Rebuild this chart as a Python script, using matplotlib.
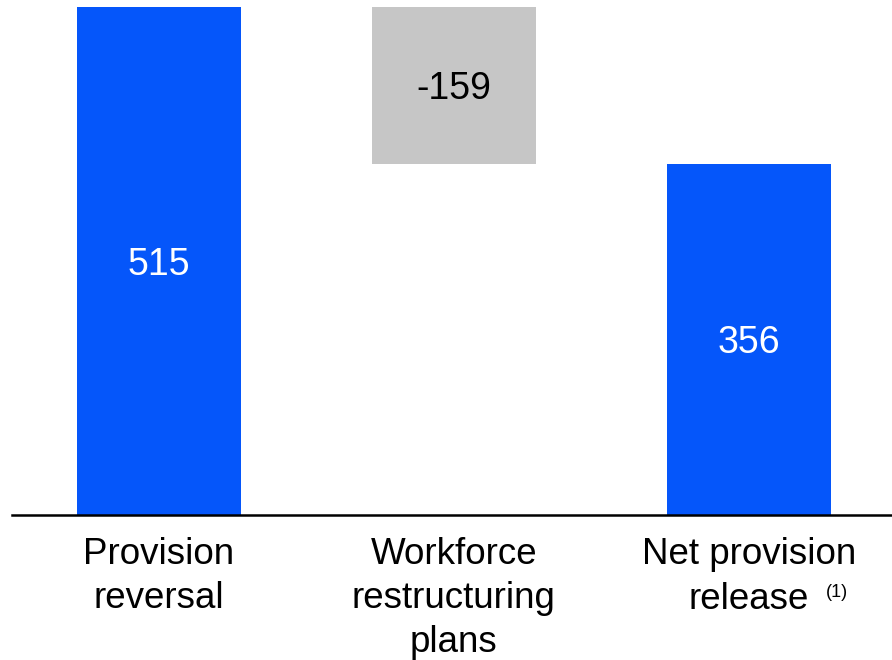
import numpy as np
import matplotlib.pyplot as plt
from matplotlib import transforms

plt.rcParams['font.family'] = ['Liberation Sans', 'DejaVu Sans']

categories = ["Provision\nreversal", "Workforce\nrestructuring\nplans", "Net provision\nrelease"]
values = [515, -159, 356]
labels = ["515", "-159", "356"]

blue = "#0556FA"
grey = "#C6C6C6"

# waterfall bottoms
bottoms = [0, values[0] + values[1], 0]
heights = [values[0], -values[1], values[2]]
colors = [blue, grey, blue]
txtcol = ["white", "black", "white"]

fig = plt.figure(figsize=(8.92, 6.6), dpi=100)
ax = fig.add_axes([12/892, 145/660, 880/892, 508/660])

x = np.arange(len(values))
ax.bar(x, heights, bottom=bottoms, width=0.556, color=colors, zorder=2)
for i in range(len(values)):
    ax.text(x[i], bottoms[i] + heights[i] / 2 - 4, labels[i], ha="center", va="center",
            fontsize=27, color=txtcol[i])

ax.set_xlim(-0.498, 2.485)
ax.set_ylim(0, 515)
for s in ["top", "left", "right"]:
    ax.spines[s].set_visible(False)
ax.spines["bottom"].set_linewidth(1.8)
ax.set_xticks([])
ax.set_yticks([])

trans = transforms.blended_transform_factory(ax.transData, fig.transFigure)
for i in range(2):
    ax.text(x[i], 1 - 537/660, categories[i], transform=trans, ha="center", va="top",
            fontsize=26.5, linespacing=1.33)
ax.text(x[2], 1 - 537/660, "Net provision", transform=trans, ha="center", va="top", fontsize=26.5)
ax.text(x[2], 1 - 582/660, "release", transform=trans, ha="center", va="top", fontsize=26.5)
ax.text(x[2] + 0.3, 1 - 584/660, "(1)", transform=trans, ha="center", va="top", fontsize=13)

fig.savefig("out.png", dpi=100)
